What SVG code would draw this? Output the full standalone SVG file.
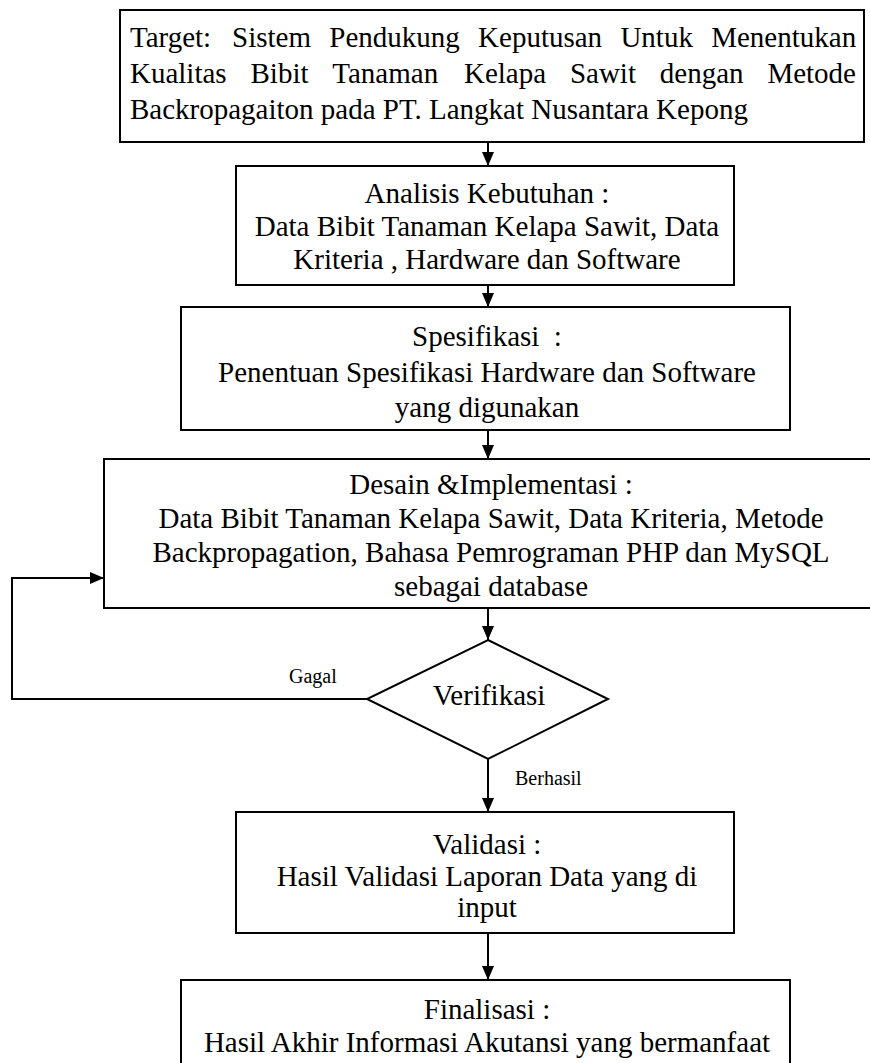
<svg xmlns="http://www.w3.org/2000/svg" width="870" height="1063" viewBox="0 0 870 1063">
<style>
.box{fill:#fff;stroke:#000;stroke-width:2}
.t{font-family:"Liberation Serif","Times New Roman",serif;font-size:29px;fill:#000}
.c{text-anchor:middle}
.s{font-family:"Liberation Serif","Times New Roman",serif;font-size:20px;fill:#000}
.ln{fill:none;stroke:#000;stroke-width:2}
</style>
<defs>
<marker id="ah" markerUnits="userSpaceOnUse" markerWidth="14" markerHeight="12" refX="14" refY="6" orient="auto">
<path d="M0,0 L14,6 L0,12 z" fill="#000"/>
</marker>
</defs>
<rect width="870" height="1063" fill="#fff"/>
<g id="connectors">
<line class="ln" x1="488" y1="142" x2="488" y2="166" marker-end="url(#ah)"/>
<line class="ln" x1="488" y1="285" x2="488" y2="307" marker-end="url(#ah)"/>
<line class="ln" x1="488" y1="430" x2="488" y2="459" marker-end="url(#ah)"/>
<line class="ln" x1="488" y1="608" x2="488" y2="640" marker-end="url(#ah)"/>
<line class="ln" x1="488" y1="759" x2="488" y2="812" marker-end="url(#ah)"/>
<line class="ln" x1="488" y1="933" x2="488" y2="980" marker-end="url(#ah)"/>
<polyline class="ln" points="367,699 12,699 12,578 104,578" marker-end="url(#ah)"/>
<text class="s" x="289" y="683">Gagal</text>
<text class="s" x="515" y="785">Berhasil</text>
</g>
<g id="target">
<rect class="box" x="120" y="10" width="744" height="132"/>
<text class="t" y="47"><tspan x="130">Target:</tspan><tspan x="232">Sistem</tspan><tspan x="329.3">Pendukung</tspan><tspan x="478.1">Keputusan</tspan><tspan x="620.4">Untuk</tspan><tspan x="711.2">Menentukan</tspan></text>
<text class="t" y="83"><tspan x="130">Kualitas</tspan><tspan x="250.5">Bibit</tspan><tspan x="332.3">Tanaman</tspan><tspan x="464">Kelapa</tspan><tspan x="569.9">Sawit</tspan><tspan x="659.8">dengan</tspan><tspan x="767.4">Metode</tspan></text>
<text class="t" x="130" y="119">Backropagaiton pada PT. Langkat Nusantara Kepong</text>
</g>
<g id="analisis">
<rect class="box" x="236" y="166" width="498" height="119"/>
<text class="t c" x="487" y="203">Analisis Kebutuhan :</text>
<text class="t c" x="487" y="236">Data Bibit Tanaman Kelapa Sawit, Data</text>
<text class="t c" x="487" y="269">Kriteria , Hardware dan Software</text>
</g>
<g id="spesifikasi">
<rect class="box" x="181" y="307" width="609" height="123"/>
<text class="t c" x="487" y="346" xml:space="preserve">Spesifikasi  :</text>
<text class="t c" x="487" y="382">Penentuan Spesifikasi Hardware dan Software</text>
<text class="t c" x="487" y="417">yang digunakan</text>
</g>
<g id="desain">
<rect class="box" x="104" y="459" width="790" height="149"/>
<text class="t c" x="491" y="494">Desain &amp;Implementasi :</text>
<text class="t c" x="491" y="528">Data Bibit Tanaman Kelapa Sawit, Data Kriteria, Metode</text>
<text class="t c" x="491" y="562">Backpropagation, Bahasa Pemrograman PHP dan MySQL</text>
<text class="t c" x="491" y="596">sebagai database</text>
</g>
<g id="verifikasi">
<polygon class="box" points="488,640 608,699 488,759 367,699"/>
<text class="t c" x="489" y="705">Verifikasi</text>
</g>
<g id="validasi">
<rect class="box" x="236" y="812" width="498" height="121"/>
<text class="t c" x="487" y="854">Validasi :</text>
<text class="t c" x="487" y="886">Hasil Validasi Laporan Data yang di</text>
<text class="t c" x="487" y="917">input</text>
</g>
<g id="finalisasi">
<rect class="box" x="181" y="980" width="609" height="100"/>
<text class="t c" x="487" y="1019">Finalisasi :</text>
<text class="t c" x="487" y="1052">Hasil Akhir Informasi Akutansi yang bermanfaat</text>
</g>
</svg>
